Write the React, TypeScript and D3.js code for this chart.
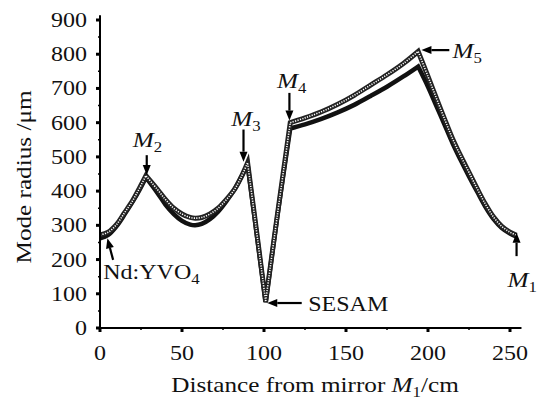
import React from 'react'
import * as d3 from 'd3'

// distance from mirror M1 (cm) and mode radius (um)
const distance = [
  0, 5, 10, 15, 20, 24, 28,
  35, 40, 45, 50, 55, 58, 62, 67, 72, 77, 82, 86, 90,
  95, 101, 108, 116,
  125, 135, 145, 155, 165, 175, 185, 194,
  200, 205, 210, 215, 220, 225, 230, 235, 240, 245, 250, 254,
]
const radiusUpper = [
  272, 280, 302, 337, 373, 408, 445,
  405, 375, 350, 333, 323, 321, 323, 333, 350, 375, 405, 440, 483,
  300, 77, 325, 600,
  614, 632, 654, 680, 710, 740, 773, 808,
  735, 673, 612, 553, 502, 455, 407, 362, 324, 297, 280, 271,
]
const radiusLower = [
  262, 272, 297, 332, 370, 403, 440,
  395, 360, 333, 313, 302, 300, 304, 318, 340, 370, 405, 440, 478,
  295, 75, 322, 583,
  595, 611, 630, 652, 678, 705, 735, 764,
  705, 650, 595, 540, 490, 443, 398, 354, 318, 292, 276, 267,
]
// indices where the beam hits a mirror / crystal (sharp corners)
const breaks = [0, 6, 19, 21, 23, 31, 43]

const xTicks = [0, 50, 100, 150, 200, 250]
const xMinor = [25, 75, 125, 175, 225]
const yTicks = [0, 100, 200, 300, 400, 500, 600, 700, 800, 900]
const yMinor = [50, 150, 250, 350, 450, 550, 650, 750, 850]

// annotation arrows: [fromX, fromY, toX, toY] in data units
const arrows = [
  [28.5, 505, 28.5, 447],
  [87.5, 580, 87.5, 486],
  [115.5, 687, 115.5, 606],
  [213, 812, 196, 812],
  [254, 210, 254, 278],
  [123, 73, 102, 73],
  [8, 199, 4.5, 262],
]

const FONT = "'Liberation Serif', 'Times New Roman', serif"
const SX = 1.2

const x = d3.scaleLinear().domain([0, 250]).range([100, 510])
const y = d3.scaleLinear().domain([0, 900]).range([328, 20])

const T = ({ px, py, anchor = 'start', size = 20, rotate = false, children }: any) => (
  <text
    transform={`translate(${px},${py}) ${rotate ? 'rotate(-90)' : ''} scale(${SX},1)`}
    textAnchor={anchor}
    fontSize={size}
    fontFamily={FONT}
    fill="#111"
  >
    {children}
  </text>
)

const Mlabel = ({ px, py, n }: any) => (
  <T px={px} py={py} size={21}>
    <tspan fontStyle="italic">M</tspan>
    <tspan fontSize={14} dy={5}>{n}</tspan>
  </T>
)

const arrowPath = (a: number[]) => {
  const x1 = x(a[0]), y1 = y(a[1]), x2 = x(a[2]), y2 = y(a[3])
  const ang = Math.atan2(y2 - y1, x2 - x1)
  const hl = 10, hw = 4
  const bx = x2 - hl * Math.cos(ang), by = y2 - hl * Math.sin(ang)
  const px = -Math.sin(ang) * hw, py = Math.cos(ang) * hw
  return {
    shaft: `M${x1},${y1}L${bx},${by}`,
    head: `M${x2},${y2}L${bx + px},${by + py}L${bx - px},${by - py}Z`,
  }
}

// smooth inside each segment, sharp corner at each optical element
const beamPath = (radius: number[]) => {
  const seg = d3.line<number>()
    .x(i => x(distance[i]))
    .y(i => y(radius[i]))
    .curve(d3.curveCatmullRom.alpha(0.5))
  let d = ''
  for (let s = 0; s < breaks.length - 1; s++) {
    const idx = d3.range(breaks[s], breaks[s + 1] + 1)
    const part = seg(idx) || ''
    d += s === 0 ? part : 'L' + part.slice(1)
  }
  return d
}

export default function App() {
  const upper = beamPath(radiusUpper)
  const lower = beamPath(radiusLower)

  return (
    <svg width={538} height={399} style={{ position: 'absolute', left: 0, top: 0, background: '#fff' }}>
      {/* curves */}
      <path d={lower} fill="none" stroke="#111" strokeWidth={4.5} strokeLinejoin="miter" />
      <path d={upper} fill="none" stroke="#222" strokeWidth={5} strokeLinejoin="miter" />
      <path d={upper} fill="none" stroke="#fff" strokeWidth={1.6} strokeDasharray="1.2 1.3" />

      {/* axes */}
      <line x1={x(0)} x2={x(0)} y1={y(0) + 1} y2={y(914)} stroke="#000" strokeWidth={2} />
      <line x1={x(0) - 1} x2={x(257)} y1={y(0)} y2={y(0)} stroke="#000" strokeWidth={2} />
      {yTicks.map(t => (
        <g key={'y' + t}>
          <line x1={x(0) - 4} x2={x(0)} y1={y(t)} y2={y(t)} stroke="#000" strokeWidth={3} />
          <T px={87} py={y(t) + 7} anchor="end">{t}</T>
        </g>
      ))}
      {yMinor.map(t => (
        <line key={'ym' + t} x1={x(0) - 2} x2={x(0)} y1={y(t)} y2={y(t)} stroke="#000" strokeWidth={1.5} />
      ))}
      {xTicks.map(t => (
        <g key={'x' + t}>
          <line x1={x(t)} x2={x(t)} y1={y(0)} y2={y(0) + 4} stroke="#000" strokeWidth={3} />
          <T px={x(t)} py={360} anchor="middle">{t}</T>
        </g>
      ))}
      {xMinor.map(t => (
        <line key={'xm' + t} x1={x(t)} x2={x(t)} y1={y(0)} y2={y(0) + 2} stroke="#000" strokeWidth={1.5} />
      ))}

      {/* axis titles */}
      <T px={315} py={392} anchor="middle" size={21}>
        Distance from mirror <tspan fontStyle="italic">M</tspan>
        <tspan fontSize={14} dy={5}>1</tspan>
        <tspan dy={-5}>/cm</tspan>
      </T>
      <T px={31} py={177} anchor="middle" size={21} rotate>Mode radius /μm</T>

      {/* annotations */}
      {arrows.map((a, i) => {
        const p = arrowPath(a)
        return (
          <g key={'a' + i}>
            <path d={p.shaft} stroke="#000" strokeWidth={2.2} />
            <path d={p.head} fill="#000" />
          </g>
        )
      })}
      <Mlabel px={x(20)} py={y(530)} n="2" />
      <Mlabel px={x(80)} py={y(590)} n="3" />
      <Mlabel px={x(108)} py={y(701)} n="4" />
      <Mlabel px={x(215)} py={y(789)} n="5" />
      <Mlabel px={x(248.5)} py={y(120)} n="1" />
      <T px={x(127)} py={y(50)} size={20}>SESAM</T>
      <T px={x(2)} py={y(143)} size={20}>
        Nd:YVO<tspan fontSize={14} dy={5}>4</tspan>
      </T>
    </svg>
  )
}
